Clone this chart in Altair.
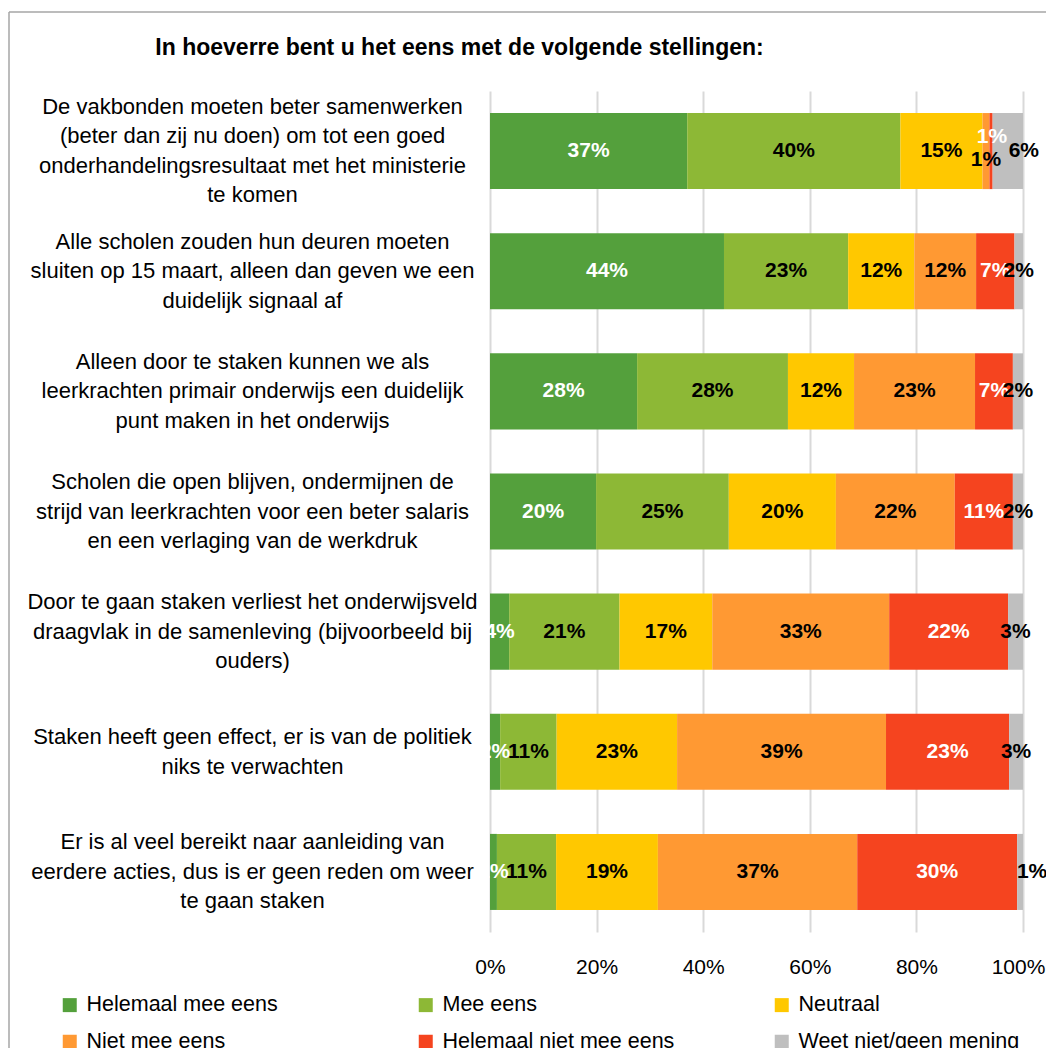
import altair as alt
import pandas as pd

statements = [
    "De vakbonden moeten beter samenwerken|(beter dan zij nu doen) om tot een goed|onderhandelingsresultaat met het ministerie|te komen",
    "Alle scholen zouden hun deuren moeten|sluiten op 15 maart, alleen dan geven we een|duidelijk signaal af",
    "Alleen door te staken kunnen we als|leerkrachten primair onderwijs een duidelijk|punt maken in het onderwijs",
    "Scholen die open blijven, ondermijnen de|strijd van leerkrachten voor een beter salaris|en een verlaging van de werkdruk",
    "Door te gaan staken verliest het onderwijsveld|draagvlak in de samenleving (bijvoorbeeld bij|ouders)",
    "Staken heeft geen effect, er is van de politiek|niks te verwachten",
    "Er is al veel bereikt naar aanleiding van|eerdere acties, dus is er geen reden om weer|te gaan staken",
]

categories = ["Helemaal mee eens", "Mee eens", "Neutraal",
              "Niet mee eens", "Helemaal niet mee eens", "Weet niet/geen mening"]

helemaal_mee_eens = [37.0, 43.9, 27.6, 19.9, 3.6, 1.9, 1.3]
mee_eens = [40.0, 23.3, 28.3, 24.9, 20.7, 10.6, 11.1]
neutraal = [15.4, 12.4, 12.4, 20.1, 17.4, 22.6, 19.1]
niet_mee_eens = [1.3, 11.6, 22.7, 22.3, 33.2, 39.2, 37.4]
helemaal_niet_mee_eens = [0.6, 7.2, 7.1, 10.9, 22.3, 23.1, 30.0]
weet_niet = [5.7, 1.6, 1.9, 1.9, 2.8, 2.6, 1.1]

colors = ["#54A03C", "#8DB836", "#FFC800", "#FF9933", "#F5441F", "#BFBFBF"]
white_label_cats = ["Helemaal mee eens", "Helemaal niet mee eens"]

series = [helemaal_mee_eens, mee_eens, neutraal, niet_mee_eens,
          helemaal_niet_mee_eens, weet_niet]

rows = []
for i, st in enumerate(statements):
    cum = 0.0
    for c, vals in zip(categories, series):
        v = vals[i]
        rows.append({"statement": st, "idx": i, "category": c, "value": v,
                     "start": cum, "end": cum + v, "mid": cum + v / 2,
                     "label": f"{round(v):.0f}%"})
        cum += v
df = pd.DataFrame(rows)

# label nudges (statement index, category) -> (dx, dy)
nudges = {
    (0, "Niet mee eens"): (0, 9),
    (0, "Helemaal niet mee eens"): (1, -14),
    (0, "Weet niet/geen mening"): (16, 0),
    (6, "Weet niet/geen mening"): (12, 0),
}

FONT = "Liberation Sans"
LH = 29.5

y_enc = alt.Y(
    "statement:N", sort=statements,
    scale=alt.Scale(paddingInner=0.367, paddingOuter=0.1835),
    axis=alt.Axis(title=None, domain=False, ticks=False, tickSize=0,
                  labelAlign="center", labelPadding=238, labelLimit=480,
                  labelFontSize=22, labelFont=FONT, labelColor="#000000",
                  labelLineHeight=LH, labelBaseline="middle",
                  labelOffset={"condition": [
                      {"test": "length(split(datum.value, '|')) == 4", "value": -1.5 * LH},
                      {"test": "length(split(datum.value, '|')) == 2", "value": -0.5 * LH}],
                      "value": -1.0 * LH},
                  labelExpr="split(datum.label, '|')"),
)

x_scale = alt.Scale(domain=[0, 100], nice=False)

bars = alt.Chart(df).mark_bar().encode(
    y=y_enc,
    x=alt.X("start:Q", scale=x_scale,
            axis=alt.Axis(title=None, values=[0, 20, 40, 60, 80, 100],
                          labelExpr="datum.value + '%'", domain=False,
                          ticks=False, grid=True, gridColor="#D9D9D9",
                          gridWidth=2, labelFontSize=21, labelFont=FONT,
                          labelColor="#000000", labelPadding=24,
                          labelFlush=False,
                          labelOffset={"condition": {"test": "datum.value == 100", "value": -5},
                                       "value": 0})),
    x2="end:Q",
    color=alt.Color("category:N",
                    scale=alt.Scale(domain=categories, range=colors),
                    legend=alt.Legend(title=None, orient="none",
                                      legendX=-431, legendY=903,
                                      columns=3, direction="horizontal",
                                      gridAlign="all", columnPadding=96,
                                      rowPadding=14, symbolType="square",
                                      symbolSize=196, symbolStrokeWidth=0,
                                      labelFontSize=21.5, labelFont=FONT,
                                      labelColor="#000000", labelOffset=6,
                                      labelLimit=400, padding=0)),
)

text_color = alt.condition(
    alt.FieldOneOfPredicate(field="category", oneOf=white_label_cats),
    alt.value("white"), alt.value("black"))

nudge_filter = " || ".join(
    f"(datum.idx == {i} && datum.category == '{c}')" for (i, c) in nudges)

main_text = alt.Chart(df).transform_filter(f"!({nudge_filter})").mark_text(
    fontWeight="bold", fontSize=21, font=FONT).encode(
    y=alt.Y("statement:N", sort=statements),
    x=alt.X("mid:Q", scale=x_scale),
    text="label:N",
    color=text_color,
)

layers = [bars, main_text]
for (i, c), (dx, dy) in nudges.items():
    layers.append(
        alt.Chart(df).transform_filter(
            f"datum.idx == {i} && datum.category == '{c}'").mark_text(
            fontWeight="bold", fontSize=21, font=FONT, dx=dx, dy=dy).encode(
            y=alt.Y("statement:N", sort=statements),
            x=alt.X("mid:Q", scale=x_scale),
            text="label:N",
            color=text_color,
        )
    )

frame_df = pd.DataFrame({"k": [0]})
left_line = alt.Chart(frame_df).mark_rule(color="#A6A6A6", strokeWidth=1.5).encode(
    x=alt.value(-481), y=alt.value(-79), y2=alt.value(966))
top_line = alt.Chart(frame_df).mark_rule(color="#A6A6A6", strokeWidth=1.5).encode(
    x=alt.value(-481), x2=alt.value(556), y=alt.value(-79))
layers += [left_line, top_line]

chart = alt.layer(*layers).properties(
    width=533, height=841,
    autosize=alt.AutoSizeParams(type="none"),
    padding={"left": 482, "top": 83, "right": 23, "bottom": 116},
    title=alt.TitleParams(
        "In hoeverre bent u het eens met de volgende stellingen:",
        fontSize=23, fontWeight="bold", font=FONT, color="#000000",
        anchor="middle", frame="group", dx=-297, offset=-49),
).configure_view(stroke=None).resolve_scale(color="shared")

chart.save("out.html", embed_options={"renderer": "svg", "actions": False})
